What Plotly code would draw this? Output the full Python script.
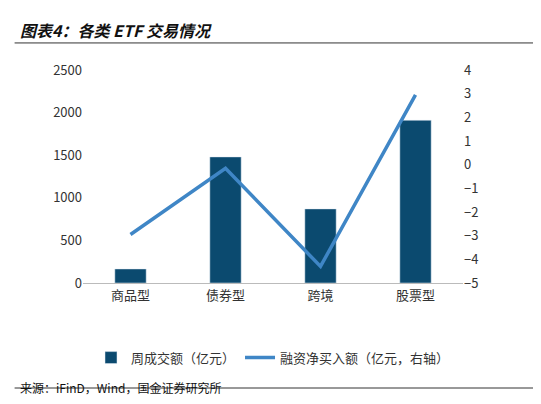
import plotly.graph_objects as go

categories = ["商品型", "债券型", "跨境", "股票型"]
volume = [165, 1480, 870, 1910]
net_buy = [-2.95, -0.15, -4.3, 2.95]
left_ticks = [0, 500, 1000, 1500, 2000, 2500]
right_ticks = [-5, -4, -3, -2, -1, 0, 1, 2, 3, 4]

fig = go.Figure()
fig.add_trace(go.Bar(x=categories, y=volume, name="周成交额（亿元）", marker_color="#0b4a6f", width=0.33))
fig.add_trace(go.Scatter(x=categories, y=net_buy, name="融资净买入额（亿元，右轴）", yaxis="y2",
                         mode="lines", line=dict(color="#3f86c6", width=3.5)))
fig.update_layout(
    width=541, height=404, plot_bgcolor="white", paper_bgcolor="white",
    font=dict(family="Noto Sans CJK SC", size=13, color="#333"),
    margin=dict(l=75, r=86, t=62, b=129),
    showlegend=True,
    legend=dict(orientation="h", x=0.5, xanchor="center", y=-0.28, yanchor="top", font=dict(size=13)),
    xaxis=dict(showline=True, linecolor="#bbb", ticks="", tickfont=dict(size=13)),
    yaxis=dict(range=[0, 2500], tickvals=left_ticks, showgrid=False, zeroline=False, tickfont=dict(size=13)),
    yaxis2=dict(range=[-5, 4], tickvals=right_ticks, overlaying="y", side="right", showgrid=False,
                zeroline=False, tickfont=dict(size=13)),
    bargap=0.5,
)
fig.add_annotation(text="<b><i>图表4：各类 ETF 交易情况</i></b>", xref="paper", yref="paper", x=-0.17, y=1.0,
                   yshift=54, xanchor="left", showarrow=False, font=dict(size=16, color="#111"))
fig.add_annotation(text="来源：iFinD，Wind，国金证券研究所", xref="paper", yref="paper", x=-0.17, y=0,
                   yshift=-115, xanchor="left", showarrow=False, font=dict(size=12, color="#111"))
fig.add_shape(type="line", xref="paper", yref="paper", x0=-0.18, x1=1.21, y0=1.127, y1=1.127,
              line=dict(color="#333", width=1))
fig.add_shape(type="line", xref="paper", yref="paper", x0=-0.18, x1=1.21, y0=-0.493, y1=-0.493,
              line=dict(color="#333", width=1))
fig.write_html("out.html")
